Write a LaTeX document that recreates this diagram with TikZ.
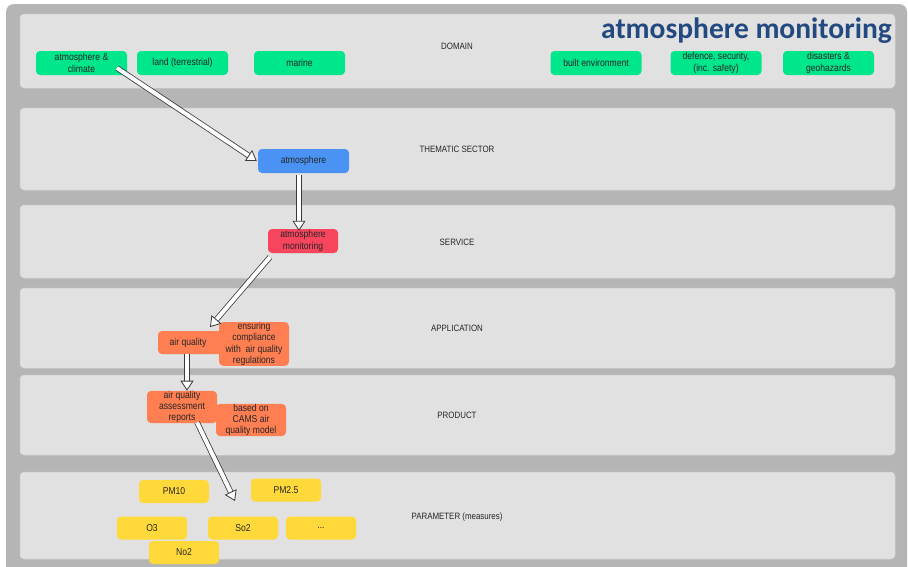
\documentclass[tikz,border=0pt]{standalone}
\usepackage{fontspec}
\setmainfont{Liberation Sans}[FakeStretch=0.86]
\newfontfamily\titlefont{Carlito}
\usetikzlibrary{arrows.meta,calc}

\definecolor{frame}{HTML}{B5B5B5}
\definecolor{panel}{HTML}{E1E1E1}
\definecolor{panelline}{HTML}{D2D2D2}
\definecolor{domaingreen}{HTML}{00E68B}
\definecolor{sectorblue}{HTML}{4A93F5}
\definecolor{servicered}{HTML}{F7455E}
\definecolor{apporange}{HTML}{FF7F52}
\definecolor{paramyellow}{HTML}{FFD93A}
\definecolor{titleblue}{HTML}{234A80}
\definecolor{arrowline}{HTML}{3A3A3A}

\tikzset{
  layer/.style={fill=panel, draw=panelline, line width=0.5pt, rounded corners=4pt},
  layerlabel/.style={font=\fontsize{9.2}{10}\selectfont, text=black!85},
  tag/.style={rounded corners=4pt, draw=none, align=center, inner sep=0pt,
    font=\fontsize{10}{11.4}\selectfont, text=black!85},
  domainbox/.style={tag, fill=domaingreen, minimum width=91pt, minimum height=24pt},
  sectorbox/.style={tag, fill=sectorblue, minimum width=91pt, minimum height=24pt},
  servicebox/.style={tag, fill=servicered, minimum width=70pt, minimum height=24pt},
  orangebox/.style={tag, fill=apporange, minimum width=70pt},
  parambox/.style={tag, fill=paramyellow, minimum width=70pt, minimum height=23pt},
  hollow/.style={draw=arrowline, line width=0.8pt, double=white, double distance=4pt,
    -{Triangle[open, fill=white, length=10pt, width=13pt, line width=0.8pt]}}
}

\begin{document}
\begin{tikzpicture}[x=1pt, y=-1pt]
  \useasboundingbox (0,0) rectangle (908,566);
  \fill[white] (0,0) rectangle (908,566);

  % outer frame and the six layers
  \fill[frame, rounded corners=8pt] (6,4) rectangle (907,575);
  \draw[layer] (20,14)  rectangle (895,88);
  \draw[layer] (20,108) rectangle (895,190);
  \draw[layer] (20,205) rectangle (895,278);
  \draw[layer] (20,288) rectangle (895,368);
  \draw[layer] (20,375) rectangle (895,455);
  \draw[layer] (20,472) rectangle (895,559);

  \node[layerlabel] (lDomain)  at (457,46)  {DOMAIN};
  \node[layerlabel] (lSector)  at (457,149) {THEMATIC SECTOR};
  \node[layerlabel] (lService) at (457,242) {SERVICE};
  \node[layerlabel] (lApp)     at (457,328) {APPLICATION};
  \node[layerlabel] (lProduct) at (457,415) {PRODUCT};
  \node[layerlabel] (lParam)   at (457,517) {PARAMETER (measures)};

  \node[anchor=base east, text=titleblue, inner sep=0pt,
        font=\titlefont\bfseries\fontsize{29.5}{32}\selectfont] (title) at (892,38)
        {atmosphere monitoring};

  % domains
  \node[domainbox] (ac)   at (81.5,63)  {atmosphere \&\\climate};
  \node[domainbox] (land) at (182.5,63) {land (terrestrial)};
  \node[domainbox] (mar)  at (299.5,63) {marine};
  \node[domainbox] (built) at (596,63)  {built environment};
  \node[domainbox] (def)  at (716,63)   {defence, security,\\(inc. safety)};
  \node[domainbox] (dis)  at (828.5,63) {disasters \&\\geohazards};

  % thematic sector and service
  \node[sectorbox]  (atm) at (303.5,161) {atmosphere};
  \node[servicebox] (mon) at (303,241)   {atmosphere\\monitoring};

  % application
  \node[orangebox, minimum width=72pt, minimum height=23pt] (aq) at (194,342.5)
        {\hspace*{-12pt}air quality};
  \node[orangebox, minimum height=42pt] (ens) at (254,344)
        {ensuring\\compliance\\with\ \ air quality\\regulations};

  % product
  \node[orangebox, minimum height=32pt] (aqar) at (182,407)
        {air quality\\assessment\\reports};
  \node[orangebox, minimum height=32pt] (cams) at (251,420)
        {based on\\CAMS air\\quality model};

  % parameters
  \node[parambox] (pm10) at (174,491.5) {PM10};
  \node[parambox] (pm25) at (286,490)   {PM2.5};
  \node[parambox] (o3)   at (152,528)   {O3};
  \node[parambox] (so2)  at (243,528)   {So2};
  \node[parambox] (more) at (321,528)   {...};
  \node[parambox] (no2)  at (184,552.5) {No2};

  % free ends of the connectors
  \coordinate (acTail)  at (117,68);
  \coordinate (monTail) at (270,257);
  \coordinate (aqTip)   at (210,327);
  \coordinate (paramTip) at (235,501);

  \draw[hollow] (acTail) -- ([xshift=-1pt]atm.west);
  \draw[hollow] ([xshift=-4.5pt, yshift=-2pt]atm.south) -- ([xshift=-4pt, yshift=-2pt]mon.north);
  \draw[hollow] (monTail) -- (aqTip);
  \draw[hollow] ([xshift=-7pt]aq.south) -- ([xshift=5pt]aqar.north);
  \draw[hollow] ([xshift=15pt, yshift=1pt]aqar.south) -- (paramTip);
\end{tikzpicture}
\end{document}
